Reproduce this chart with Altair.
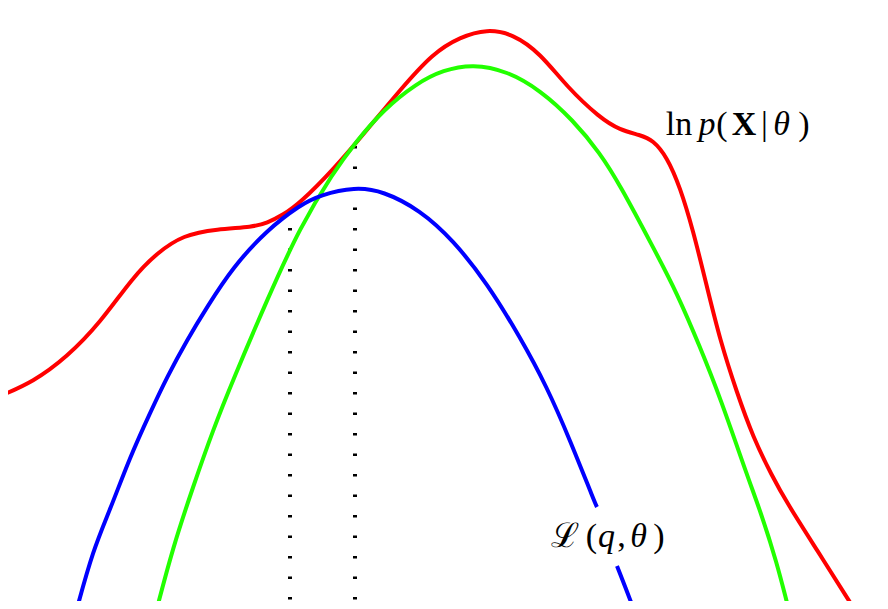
import altair as alt
import pandas as pd

# curve samples: x position, y as pixel row from the top (converted below)
red_x = [0, 33, 67, 100, 133, 157, 183, 217, 253, 267, 283, 300, 333, 367, 400, 433, 460, 487, 513,
         540, 567, 600, 620, 640, 653, 667, 680, 693, 707, 720, 737, 753, 772, 787, 817, 853, 858]
red_y = [396, 382, 357, 323, 277, 253, 235, 229, 227, 223, 215, 203, 170, 130, 90, 53, 37, 29, 34,
         53, 87, 118, 130, 135, 140, 157, 187, 230, 287, 340, 393, 437, 476, 503, 550, 607, 615]

green_x = [156, 173, 193, 213, 233, 267, 300, 333, 355, 383, 417, 443, 473, 507, 540, 573, 600,
           620, 653, 677, 700, 720, 748, 760, 777, 788, 790]
green_y = [612, 547, 487, 430, 380, 300, 227, 173, 143, 110, 83, 70, 64, 71, 90, 120, 153,
           185, 247, 293, 347, 397, 478, 510, 563, 607, 613]

blue1_x = [76, 93, 110, 130, 150, 167, 187, 207, 233, 267, 300, 320, 355, 383, 420, 453, 487, 520,
           547, 570, 595, 597]
blue1_y = [612, 550, 510, 457, 413, 377, 340, 307, 267, 230, 205, 195, 187, 191, 210, 240, 283, 337,
           387, 440, 503, 507]
blue2_x = [617, 633, 635]
blue2_y = [566, 607, 613]

# dotted verticals: x, top row, bottom row
rule_x = [290, 355]
rule_top = [228, 146]
rule_bottom = [612, 612]

# label pieces (LaTeX-like mixed styles), centred on the glyph centres
piece_text = ["ln", "p", "(", "X", "|", "θ", ")", "ℒ", "(", "q", ",", "θ", ")"]
piece_style = ["normal", "italic", "normal", "bold", "normal", "italic", "normal",
               "normal", "normal", "italic", "normal", "italic", "normal"]
piece_x = [679, 707, 722, 744, 764.5, 781.5, 804, 564.5, 591.5, 606.5, 621.5, 638.5, 659]
piece_base = [135, 135, 135, 135, 135, 135, 135, 547, 547, 547, 547, 547, 547]

H = 609


def frame(xs, ys, seg):
    return pd.DataFrame({"x": xs, "y": [H - v for v in ys], "seg": seg})


curves = pd.concat([
    frame(red_x, red_y, "red"),
    frame(green_x, green_y, "green"),
    frame(blue1_x, blue1_y, "blue1"),
    frame(blue2_x, blue2_y, "blue2"),
])
colors = {"red": "#ff0000", "green": "#22ff00", "blue1": "#0000ff", "blue2": "#0000ff"}

xs = alt.Scale(domain=[8, 880])
ys = alt.Scale(domain=[8, 601])

lines = alt.Chart(curves).mark_line(strokeWidth=4, interpolate="basis", clip=True).encode(
    x=alt.X("x:Q", scale=xs, axis=None),
    y=alt.Y("y:Q", scale=ys, axis=None),
    detail="seg:N",
    color=alt.Color("seg:N", scale=alt.Scale(domain=list(colors.keys()), range=list(colors.values())), legend=None),
)

rules_df = pd.DataFrame({"x": rule_x, "y": [H - v for v in rule_top], "y2": [H - v for v in rule_bottom]})
rules = alt.Chart(rules_df).mark_rule(color="black", strokeWidth=4, strokeDash=[2.5, 18], clip=True).encode(
    x=alt.X("x:Q", scale=xs, axis=None),
    y=alt.Y("y:Q", scale=ys, axis=None),
    y2="y2:Q",
)

lab_df = pd.DataFrame({"t": piece_text, "s": piece_style, "x": piece_x,
                       "y": [H - v for v in piece_base]})
base_text = alt.Chart(lab_df).encode(
    x=alt.X("x:Q", scale=xs, axis=None),
    y=alt.Y("y:Q", scale=ys, axis=None),
    text="t:N",
)
common = dict(align="center", baseline="alphabetic", font="Liberation Serif", fontSize=34, color="black")
t_normal = base_text.mark_text(**common).transform_filter(alt.datum.s == "normal")
t_italic = base_text.mark_text(fontStyle="italic", **common).transform_filter(alt.datum.s == "italic")
t_bold = base_text.mark_text(fontWeight="bold", **common).transform_filter(alt.datum.s == "bold")

chart = alt.layer(rules, lines, t_normal, t_italic, t_bold).properties(
    width=872, height=593, autosize="none", padding=0
).configure_view(stroke=None)

chart.save("out.html", embed_options={"renderer": "svg", "actions": False})
